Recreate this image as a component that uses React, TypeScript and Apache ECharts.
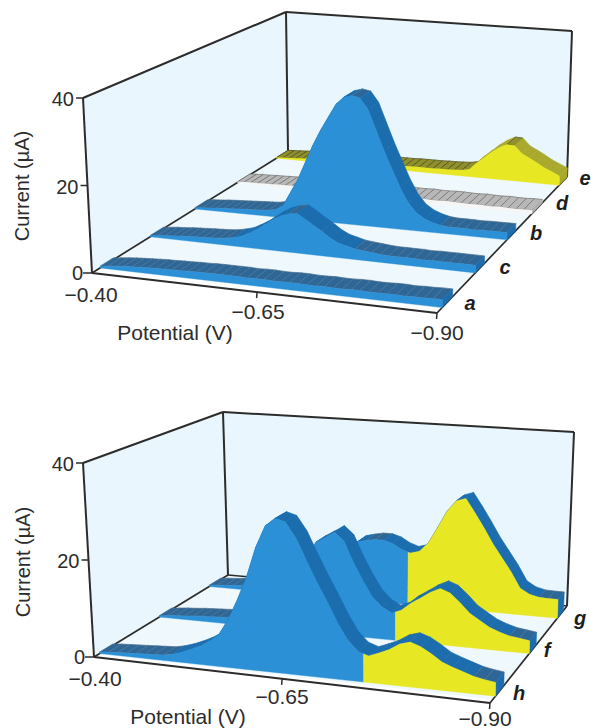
import React, { useEffect, useRef } from "react";
import * as echarts from "echarts";

const potentials = [
  -0.4, -0.4125, -0.425, -0.4375, -0.45, -0.4625, -0.475, -0.4875, -0.5, -0.5125, -0.525, -0.5375, -0.55, -0.5625,
  -0.575, -0.5875, -0.6, -0.6125, -0.625, -0.6375, -0.65, -0.6625, -0.675, -0.6875, -0.7, -0.7125, -0.725, -0.7375,
  -0.75, -0.7625, -0.775, -0.7875, -0.8, -0.8125, -0.825, -0.8375, -0.85, -0.8625, -0.875, -0.8875, -0.9,
];

const traceA = [0.4, 0.6, 0.8, 1.0, 1.1, 1.2, 1.3, 1.4, 1.4, 1.5, 1.5, 1.6, 1.6, 1.7, 1.7, 1.7, 1.7, 1.7, 1.6, 1.7, 1.7, 1.6, 1.6, 1.7, 1.7, 1.6, 1.6, 1.7, 1.6, 1.6, 1.7, 1.7, 1.6, 1.6, 1.7, 1.7, 1.6, 1.7, 1.7, 1.8, 1.8];
const traceB = [0.3, 0.5, 0.6, 0.8, 0.9, 1.0, 1.1, 1.2, 1.3, 1.4, 1.5, 1.9, 3, 6.5, 10, 14.5, 19, 23, 26.5, 30, 32, 32.6, 32.2, 29.5, 24.5, 19.5, 15, 10.6, 7, 4.6, 3.3, 2.5, 2, 1.8, 1.8, 1.8, 1.7, 1.8, 1.8, 1.8, 1.8];
const traceC = [0.3, 0.5, 0.7, 0.8, 1.0, 1.1, 1.2, 1.3, 1.4, 1.5, 1.7, 2.1, 2.6, 3.6, 4.7, 6.1, 7.5, 8.6, 9.3, 9.6, 8.4, 7.1, 5.9, 4.5, 3.5, 3, 2.5, 2.3, 2.1, 1.9, 1.8, 1.8, 1.8, 1.8, 1.7, 1.8, 1.8, 1.8, 1.8, 1.8, 1.8];
const traceD = [0.2, 0.3, 0.4, 0.4, 0.5, 0.5, 0.6, 0.6, 0.7, 0.7, 0.7, 0.8, 0.8, 0.8, 0.9, 0.9, 0.8, 0.8, 0.9, 0.8, 0.8, 0.9, 0.8, 0.9, 0.8, 0.8, 0.9, 0.8, 0.8, 0.9, 0.9, 0.8, 0.8, 0.9, 0.8, 0.8, 0.9, 0.8, 0.8, 0.9, 0.9];
const traceE = [0.2, 0.3, 0.4, 0.5, 0.6, 0.7, 0.7, 0.8, 0.8, 0.9, 0.9, 1.0, 1.0, 1.0, 1.1, 1.1, 1.1, 1.2, 1.2, 1.2, 1.3, 1.3, 1.3, 1.3, 1.4, 1.4, 1.5, 1.6, 2, 3.9, 5.6, 7.3, 8.7, 9.7, 9.6, 7.6, 6.6, 5.5, 4.3, 3.4, 2.5];
const traceF = [0.3, 0.5, 0.7, 0.8, 1.0, 1.1, 1.2, 1.3, 1.4, 1.5, 1.6, 1.8, 3, 4, 6, 9, 12.5, 16, 19.7, 20.9, 22.2, 20.4, 16, 12.2, 8.9, 6.9, 5.8, 6.6, 8.3, 9.6, 11, 12, 11.2, 9.4, 7.3, 6, 4.7, 3.9, 3.3, 3, 2.7];
const traceG = [0.3, 0.5, 0.6, 0.8, 0.9, 1.0, 1.1, 1.2, 1.3, 1.4, 1.5, 1.6, 1.8, 2.5, 4, 6, 9, 12, 13.5, 14, 14.4, 14.4, 13.8, 12.6, 11.9, 12.5, 14.6, 18.3, 22.2, 24.7, 25.4, 22.3, 19, 15.5, 12.5, 9.5, 6, 4.8, 4.3, 4.2, 4.2];
const traceH = [0.3, 0.5, 0.6, 0.7, 0.8, 0.9, 1.0, 1.1, 1.5, 2.1, 2.9, 3.8, 5, 6.6, 9.8, 14, 18.8, 25, 29.5, 31.2, 30.6, 27.6, 23.3, 19.2, 15.4, 11.4, 8, 6, 5.3, 6.1, 7, 8.3, 8.9, 8.2, 7, 5.6, 4.8, 4.1, 3.4, 3, 2.7];

const colourSplits = { f: -0.73, g: -0.697, h: -0.744 };

const xTickValues = [-0.4, -0.65, -0.9];
const xTickLabels = ["\u22120.40", "\u22120.65", "\u22120.90"];
const yTickValues = [0, 20, 40];
const yTickLabels = ["0", "20", "40"];
const xTitle = "Potential (V)";
const yTitle = "Current (\u00b5A)";

const FONT = '"Liberation Sans", Arial, sans-serif';
const INK = "#2c2c2c";
const BLUE = "#2b90d6";
const YELLOW = "#e7e724";
const WALL = "#e9f6fd";

const STYLE_BLUE = { front: BLUE, strip: "#1b6dad", flat: "#2c6797", hatch: "#50708c" };
const STYLE_GREY = { front: "#f6f6f6", strip: "#b4b4b4", flat: "#b8b8b8", hatch: "#6f6f6f" };
const STYLE_OLIVE = { front: YELLOW, strip: "#a9a92e", flat: "#8f8f2c", hatch: "#4f4f20" };

const panelTop = {
  grid: { left: 92, top: 98, width: 345, height: 175 },
  floor: [[92, 273], [437, 313], [288, 151], [567, 177]],
  ceil: [[83, 98], [440, 136], [286, 12], [572, 31]],
  k: 1.09,
  xLabelDy: [21, 19, 19],
  xLabelDx: [-1, 1, 0],
  xTitlePos: [175, 332],
  yTitlePos: [22, 186],
};
const panelBottom = {
  grid: { left: 94, top: 463, width: 396, height: 194 },
  floor: [[94, 657], [490, 703], [228, 575], [567, 606]],
  ceil: [[83, 463], [494, 496], [223, 412], [574, 432]],
  k: 1.105,
  xLabelDy: [21, 18, 15],
  xLabelDx: [1, 0, -5],
  xTitlePos: [188, 716],
  yTitlePos: [23, 562],
};

function warp(u: number, k: number) {
  return u / (u + k * (1 - u));
}
function bilinear(q: number[][], u: number, v: number) {
  const a = [(1 - u) * q[0][0] + u * q[1][0], (1 - u) * q[0][1] + u * q[1][1]];
  const b = [(1 - u) * q[2][0] + u * q[3][0], (1 - u) * q[2][1] + u * q[3][1]];
  return [(1 - v) * a[0] + v * b[0], (1 - v) * a[1] + v * b[1]];
}
function project(panel: any, u: number, v: number, h: number) {
  const w = warp(u, panel.k);
  const f = bilinear(panel.floor, w, v);
  const c = bilinear(panel.ceil, w, v);
  return [f[0] + h * (c[0] - f[0]), f[1] + h * (c[1] - f[1])];
}

function ribbon(panel: any, depth: number[], values: number[], look: any, split?: number) {
  return (params: any, api: any) => {
    if (params.dataIndex !== 0) return null;
    const cs = params.coordSys;
    const toNorm = (p: number, val: number) => {
      const c = api.coord([p, val]);
      return { u: (c[0] - cs.x) / cs.width, h: (cs.y + cs.height - c[1]) / cs.height };
    };
    const pts = potentials.map((p, i) => toNorm(p, values[i]));
    const vF = (u: number) => depth[0] + (depth[2] - depth[0]) * warp(u, panel.k);
    const vB = (u: number) => depth[1] + (depth[3] - depth[1]) * warp(u, panel.k);
    const front = (u: number, h: number) => project(panel, u, vF(u), h);
    const back = (u: number, h: number) => project(panel, u, vB(u), h);
    const children: any[] = [];
    for (let i = 0; i < pts.length - 1; i++) {
      const a = pts[i];
      const b = pts[i + 1];
      const flat = Math.abs(b.h - a.h) < 0.012;
      children.push({
        type: "polygon",
        shape: { points: [front(a.u, a.h), front(b.u, b.h), back(b.u, b.h), back(a.u, a.h)] },
        style: { fill: flat ? look.flat : look.strip, stroke: flat ? look.hatch : look.strip, lineWidth: 0.7 },
      });
    }
    const last = pts[pts.length - 1];
    children.push({
      type: "polygon",
      shape: { points: [front(1, 0), back(1, 0), back(1, last.h), front(1, last.h)] },
      style: { fill: look.strip, stroke: look.strip, lineWidth: 0.5 },
    });
    const face = (list: { u: number; h: number }[], fill: string) => {
      const poly = list.map((p) => front(p.u, p.h));
      poly.push(front(list[list.length - 1].u, 0));
      poly.push(front(list[0].u, 0));
      return { type: "polygon", shape: { points: poly }, style: { fill, stroke: fill, lineWidth: 0.4 } };
    };
    if (split === undefined) {
      children.push(face(pts, look.front));
    } else {
      const s = toNorm(split, 0).u;
      const idx = pts.findIndex((p) => p.u > s);
      const a = pts[idx - 1];
      const b = pts[idx];
      const mid = { u: s, h: a.h + ((b.h - a.h) * (s - a.u)) / (b.u - a.u) };
      children.push(face([...pts.slice(0, idx), mid], look.front));
      children.push(face([mid, ...pts.slice(idx)], YELLOW));
    }
    return { type: "group", children };
  };
}

function frame(panel: any, firstRowDepth: number) {
  return (params: any, api: any) => {
    if (params.dataIndex !== 0) return null;
    const cs = params.coordSys;
    const at = (p: number, val: number, v: number) => {
      const c = api.coord([p, val]);
      return project(panel, (c[0] - cs.x) / cs.width, v, (cs.y + cs.height - c[1]) / cs.height);
    };
    const xA = xTickValues[0];
    const xB = xTickValues[2];
    const yT = yTickValues[2];
    const O = at(xA, 0, 0);
    const FR = at(xB, 0, 0);
    const BL = at(xA, 0, 1);
    const BR = at(xB, 0, 1);
    const TL = at(xA, yT, 0);
    const TB = at(xA, yT, 1);
    const TR = at(xB, yT, 1);
    const line = (a: number[], b: number[], w = 2) => ({
      type: "line",
      shape: { x1: a[0], y1: a[1], x2: b[0], y2: b[1] },
      style: { stroke: INK, lineWidth: w },
    });
    const children: any[] = [
      { type: "polygon", shape: { points: [O, TL, TB, BL] }, style: { fill: WALL } },
      { type: "polygon", shape: { points: [BL, TB, TR, BR] }, style: { fill: WALL } },
      { type: "polygon", shape: { points: [O, FR, BR, BL] }, style: { fill: "#eff9fd" } },
      { type: "polygon", shape: { points: [O, FR, at(xB, 0, firstRowDepth), at(xA, 0, firstRowDepth)] }, style: { fill: "#ffffff" } },
      line(O, TL),
      line(TL, TB),
      line(TB, TR),
      line(TR, BR),
      line(TB, BL),
      line(O, BL, 1.7),
      line(BL, BR, 1.5),
      line(O, FR),
      line(FR, BR, 1.7),
    ];
    yTickValues.forEach((y, i) => {
      const p = at(xA, y, 0);
      children.push(line([p[0] - (i === 0 ? 9 : 7), p[1]], p, 1.5));
      children.push({
        type: "text",
        style: { x: p[0] - 9, y: p[1] + (i === 0 ? 0 : 1), text: yTickLabels[i], fontSize: 20, fontFamily: FONT, fill: INK, align: "right", verticalAlign: "middle" },
      });
    });
    xTickValues.forEach((x, i) => {
      const p = at(x, 0, 0);
      if (i > 0) children.push(line(p, [p[0] - 0.5, p[1] + 6], 1.5));
      children.push({
        type: "text",
        style: { x: p[0] + panel.xLabelDx[i], y: p[1] + panel.xLabelDy[i], text: xTickLabels[i], fontSize: 21, fontFamily: FONT, fill: INK, align: "center", verticalAlign: "middle" },
      });
    });
    children.push({
      type: "text",
      style: { x: panel.xTitlePos[0], y: panel.xTitlePos[1], text: xTitle, fontSize: 21, fontFamily: FONT, fill: INK, align: "center", verticalAlign: "middle" },
    });
    children.push({
      type: "text",
      x: panel.yTitlePos[0],
      y: panel.yTitlePos[1],
      rotation: Math.PI / 2,
      style: { x: 0, y: 0, text: yTitle, fontSize: 20, fontFamily: FONT, fill: INK, align: "center", verticalAlign: "middle" },
    });
    return { type: "group", children };
  };
}

const seriesData = potentials.map((p, i) => [p, i]);

function customSeries(gridIndex: number, values: number[] | null, renderItem: any, z: number) {
  return {
    type: "custom",
    coordinateSystem: "cartesian2d",
    xAxisIndex: gridIndex,
    yAxisIndex: gridIndex,
    silent: true,
    z,
    data: values ? potentials.map((p, i) => [p, values[i]]) : seriesData,
    encode: { x: 0, y: 1 },
    renderItem,
  };
}

const rowLabels = [
  { text: "e", x: 585, y: 178 },
  { text: "d", x: 562, y: 203 },
  { text: "b", x: 536, y: 233 },
  { text: "c", x: 505, y: 267 },
  { text: "a", x: 470, y: 303 },
  { text: "g", x: 580, y: 618 },
  { text: "f", x: 547, y: 650 },
  { text: "h", x: 519, y: 693 },
];

function buildOption() {
  const axis = (gridIndex: number) => ({
    gridIndex,
    type: "value",
    show: false,
    min: -0.9,
    max: -0.4,
    inverse: true,
  });
  const yaxis = (gridIndex: number) => ({ gridIndex, type: "value", show: false, min: 0, max: 40 });
  return {
    animation: false,
    backgroundColor: "#ffffff",
    grid: [panelTop.grid, panelBottom.grid],
    xAxis: [axis(0), axis(1)],
    yAxis: [yaxis(0), yaxis(1)],
    series: [
      customSeries(0, null, frame(panelTop, 0.035), 1),
      customSeries(0, traceE, ribbon(panelTop, [0.941, 1.0, 0.94, 1.0], traceE, STYLE_OLIVE), 2),
      customSeries(0, traceD, ribbon(panelTop, [0.742, 0.806, 0.73, 0.81], traceD, STYLE_GREY), 3),
      customSeries(0, traceB, ribbon(panelTop, [0.525, 0.59, 0.538, 0.605], traceB, STYLE_BLUE), 4),
      customSeries(0, traceC, ribbon(panelTop, [0.297, 0.365, 0.295, 0.365], traceC, STYLE_BLUE), 5),
      customSeries(0, traceA, ribbon(panelTop, [0.042, 0.11, 0.04, 0.12], traceA, STYLE_BLUE), 6),
      customSeries(1, null, frame(panelBottom, 0.035), 1),
      customSeries(1, traceG, ribbon(panelBottom, [0.86, 0.945, 0.875, 0.955], traceG, STYLE_BLUE, colourSplits.g), 2),
      customSeries(1, traceF, ribbon(panelBottom, [0.4875, 0.58, 0.51, 0.6], traceF, STYLE_BLUE, colourSplits.f), 3),
      customSeries(1, traceH, ribbon(panelBottom, [0.0425, 0.14, 0.07, 0.18], traceH, STYLE_BLUE, colourSplits.h), 4),
    ],
    graphic: rowLabels.map((l) => ({
      type: "text",
      x: l.x,
      y: l.y,
      style: {
        text: l.text,
        fontSize: 20,
        fontWeight: "bold",
        fontStyle: "italic",
        fontFamily: FONT,
        fill: "#1e1e1e",
        align: "center",
        verticalAlign: "middle",
      },
    })),
  };
}

export default function App() {
  const ref = useRef<HTMLDivElement>(null);
  useEffect(() => {
    const chart = echarts.init(ref.current as HTMLDivElement, undefined, { renderer: "svg" });
    chart.setOption(buildOption() as any);
    return () => chart.dispose();
  }, []);
  return <div ref={ref} style={{ position: "absolute", left: 0, top: 0, width: 591, height: 728 }} />;
}
